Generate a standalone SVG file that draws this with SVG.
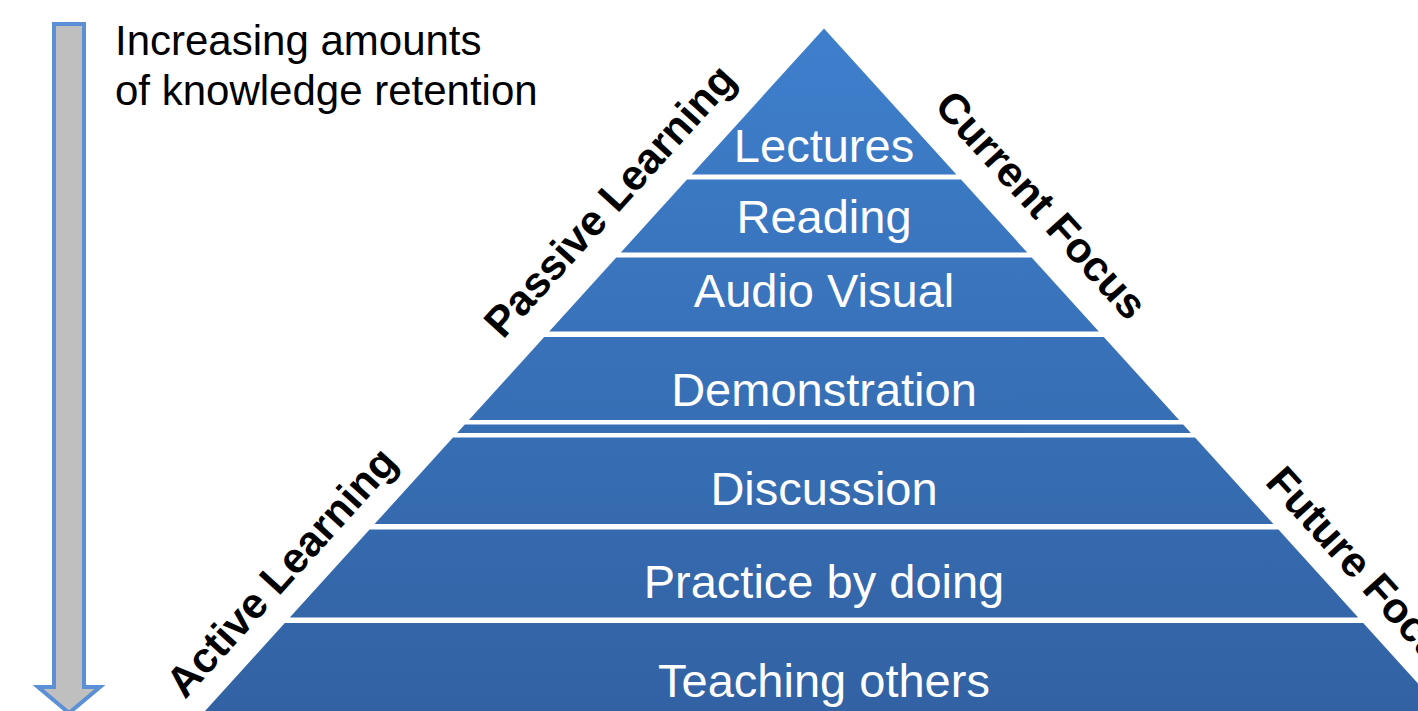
<svg xmlns="http://www.w3.org/2000/svg" width="1418" height="711" viewBox="0 0 1418 711">
<defs>
<linearGradient id="pg" gradientUnits="userSpaceOnUse" x1="0" y1="28" x2="0" y2="711">
<stop offset="0" stop-color="#3E7FCC"/>
<stop offset="1" stop-color="#3262A3"/>
</linearGradient>
<style>
.band{fill:url(#pg);}
.bt{font-family:"Liberation Sans",Arial,sans-serif;font-size:47px;fill:#FFFFFF;text-anchor:middle;}
.side{font-family:"Liberation Sans",Arial,sans-serif;font-size:42.5px;font-weight:bold;fill:#000000;}
.note{font-family:"Liberation Sans",Arial,sans-serif;font-size:42px;fill:#000000;}
</style>
</defs>
<rect width="1418" height="711" fill="#FFFFFF"/>
<g id="arrow">
<path d="M54,24 L84,24 L84,687 L100,687 L69,713 L38,687 L54,687 Z" fill="#BFBFBF" stroke="#5B8FD6" stroke-width="4" stroke-linejoin="miter"/>
</g>
<g id="note">
<text class="note" x="115" y="55">Increasing amounts</text>
<text class="note" x="115" y="105">of knowledge retention</text>
</g>
<g id="lectures">
<polygon class="band" points="824,28.5 956.4,174.5 691.6,174.5"/>
<text class="bt" x="824" y="162">Lectures</text>
</g>
<g id="reading">
<polygon class="band" points="687,179.5 961,179.5 1027.2,252.5 620.8,252.5"/>
<text class="bt" x="824" y="233">Reading</text>
</g>
<g id="audio-visual">
<polygon class="band" points="616.3,257.5 1031.7,257.5 1098.8,331.5 549.2,331.5"/>
<text class="bt" x="824" y="307">Audio Visual</text>
</g>
<g id="demonstration">
<polygon class="band" points="544.2,337 1103.8,337 1179.1,420 468.9,420"/>
<text class="bt" x="824" y="406">Demonstration</text>
</g>
<g id="strip">
<polygon class="band" points="464.8,424.5 1183.2,424.5 1190.9,433 457.1,433"/>
</g>
<g id="discussion">
<polygon class="band" points="453,437.5 1195,437.5 1273.4,524 374.6,524"/>
<text class="bt" x="824" y="505">Discussion</text>
</g>
<g id="practice">
<polygon class="band" points="369.6,529.5 1278.4,529.5 1358.2,617.5 289.8,617.5"/>
<text class="bt" x="824" y="598">Practice by doing</text>
</g>
<g id="teaching">
<polygon class="band" points="284.8,623 1363.2,623 1443,711 205,711"/>
<text class="bt" x="824" y="697">Teaching others</text>
</g>
<g id="labels">
<text class="side" transform="translate(503,340) rotate(-47.8)">Passive Learning</text>
<text class="side" transform="translate(185,700) rotate(-47.8)">Active Learning</text>
<text class="side" transform="translate(933,107) rotate(47.8)">Current Focus</text>
<text class="side" transform="translate(1264,483) rotate(47.8)">Future Focus</text>
</g>
</svg>
